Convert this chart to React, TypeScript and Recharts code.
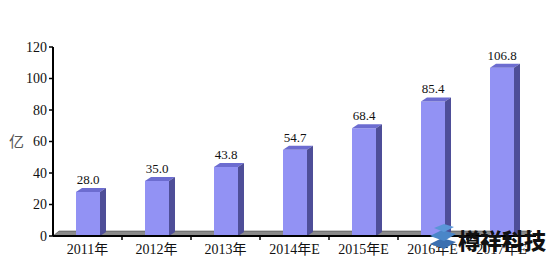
import { BarChart, Bar, XAxis, YAxis, LabelList, ReferenceArea } from "recharts";

const years = ["2011年", "2012年", "2013年", "2014年E", "2015年E", "2016年E", "2017年E"];
const revenue = [28.0, 35.0, 43.8, 54.7, 68.4, 85.4, 106.8];
const yTicks = [0, 20, 40, 60, 80, 100, 120];

const rows = years.map((y, i) => ({ year: y, value: revenue[i] }));

const FONT = "Liberation Serif, Noto Sans CJK SC, serif";
const DX = 6;
const DY = 4;

function Bar3D(props: any) {
  const { x, y, width, height } = props;
  if (height == null || height <= 0) return null;
  const top = `${x},${y} ${x + DX},${y - DY} ${x + width + DX},${y - DY} ${x + width},${y}`;
  const side = `${x + width},${y} ${x + width + DX},${y - DY} ${x + width + DX},${y + height - DY} ${x + width},${y + height}`;
  return (
    <g>
      <rect x={x} y={y} width={width} height={height} fill="#9292f4" />
      <polygon points={top} fill="#6c6cd0" />
      <polygon points={side} fill="#4e4e98" />
    </g>
  );
}

function Floor(props: any) {
  const { x, y, width, height } = props;
  const b = y + height;
  const n = years.length;
  const pts = `${x},${b} ${x + DX},${b - 5} ${x + width - 4},${b - 5} ${x + width - 10},${b}`;
  return (
    <g>
      <polygon points={pts} fill="#8a8a8a" stroke="#333" strokeWidth={0.5} />
      {years.map((_, i) =>
        i > 0 ? (
          <line key={i} x1={x + (i * width) / n} x2={x + (i * width) / n} y1={b} y2={b + 4} stroke="#000" strokeWidth={1.5} />
        ) : null
      )}
    </g>
  );
}

export default function App() {
  return (
    <div style={{ position: "absolute", left: 0, top: 0, width: 546, height: 262, background: "#fff", fontFamily: FONT }}>
      <BarChart
        width={546}
        height={262}
        data={rows}
        margin={{ top: 47, right: 10, bottom: 0, left: 0 }}
        barSize={24}
        style={{ fontFamily: FONT }}
      >
        <ReferenceArea y1={0} y2={3} fill="none" stroke="none" shape={<Floor />} ifOverflow="visible" />
        <YAxis
          width={53}
          domain={[0, 120]}
          ticks={yTicks}
          interval={0}
          axisLine={{ stroke: "#000", strokeWidth: 2 }}
          tickLine={{ stroke: "#000", strokeWidth: 1.5 }}
          tickSize={4}
          tick={{ fill: "#111", fontSize: 14 }}
          label={{ value: "亿", position: "insideLeft", dx: 4, fill: "#555", fontSize: 15 }}
        />
        <XAxis
          dataKey="year"
          height={26}
          interval={0}
          axisLine={{ stroke: "#000", strokeWidth: 2 }}
          tickLine={false}
          tick={{ fill: "#111", fontSize: 14 }}
          tickMargin={2}
        />
        <Bar dataKey="value" shape={<Bar3D />} isAnimationActive={false}>
          <LabelList
            dataKey="value"
            position="top"
            offset={8}
            formatter={(v: any) => Number(v).toFixed(1)}
            style={{ fill: "#111", fontSize: 13 }}
          />
        </Bar>
      </BarChart>
      <div style={{ position: "absolute", left: 428, top: 224, width: 30, height: 30 }}>
        <svg width={30} height={30}>
          <polygon points="2,20 14,14 28,18 16,25" fill="#3b6fb0" />
          <polygon points="2,12 14,6 28,10 16,17" fill="#4a86c8" />
          <polygon points="6,4 16,0 26,3 16,8" fill="#5a96d8" />
        </svg>
      </div>
      <div
        style={{
          position: "absolute",
          left: 458,
          top: 223,
          fontFamily: "Noto Sans CJK SC, sans-serif",
          fontWeight: 900,
          fontSize: 22,
          color: "#111",
          whiteSpace: "nowrap",
        }}
      >
        樽祥科技
      </div>
    </div>
  );
}
